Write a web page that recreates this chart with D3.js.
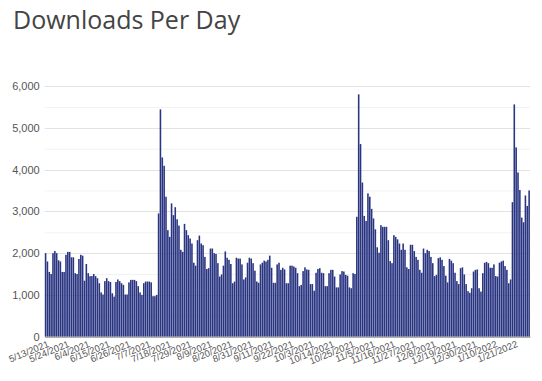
<!DOCTYPE html>
<html>
<head>
<meta charset="utf-8">
<script src="https://cdn.jsdelivr.net/npm/d3@7"></script>
<style>
  body { margin: 0; background: #fff; }
</style>
</head>
<body>
<div id="vis-holder"></div>
<script>
// Chart size
const width = 542;
const height = 381;
const margin = { top: 86, right: 12, bottom: 44.3, left: 44.7 };

// Data: one value per day, starting on startDate
const startDate = "2021-05-13";
const downloads = [
  2000, 1800, 1550, 1500, 2000, 2050, 2000, 1830, 1800, 1550, 1550, 1960, 2030, 2030, 1900, 1900, 1520, 1500, 1860, 1960, 1940, 1340, 1740,
  1520, 1450, 1450, 1500, 1450, 1400, 1280, 1060, 1010, 1330, 1400, 1330, 1310, 1040, 960, 1310, 1370, 1330, 1280, 1240, 1010, 1010, 1300, 1360,
  1360, 1360, 1330, 1210, 1060, 1000, 1280, 1320, 1320, 1320, 1300, 970, 970, 1000,
  2950,
  5440, 4290, 4090, 3350, 2550, 2390, 3190, 2910, 3100, 2810,
  2660, 2080, 2030, 2700, 2550, 2430, 2350, 2230, 1770, 1700, 2310, 2420, 2230, 2190, 1910, 1620, 1640, 2110, 2110, 2000, 1980, 1760, 1440, 1490,
  1700, 2040, 1890, 1840, 1740, 1280, 1320, 1890, 1870, 1870, 1730, 1370, 1420, 1770, 1890, 1870, 1760, 1580, 1320, 1290, 1730, 1770, 1820, 1800, 1840,
  1940, 1650, 1290, 1290, 1730, 1770, 1600, 1650, 1610, 1280, 1280, 1700, 1700, 1680, 1650, 1520, 1210, 1240, 1570, 1660, 1610, 1600, 1260, 1260,
  1100, 1530, 1620, 1640, 1530, 1520, 1210, 1210, 1520, 1600, 1600, 1440, 1180, 1180, 1490, 1570, 1560, 1480, 1460, 1180, 1160, 1520,
  1500, 2870,
  5800, 4610, 3690, 2890, 2770, 3430, 3350, 3060, 2830, 2570, 2140, 2010, 2670, 2630, 2630, 2630, 2310, 1810, 1760, 2430, 2390, 2330, 2230, 2080,
  2230, 2080, 1660, 1620, 2200, 2200, 2050, 1910, 1840, 1600, 1530, 2110, 2000, 2080, 2050, 1910, 1760, 1450, 1480, 1880, 1900, 1840, 1690, 1460, 1300,
  1860,
  1820, 1760, 1530, 1330, 1260, 1640, 1660, 1490, 1260, 1090, 1050, 1160, 1560, 1600, 1610, 1160, 1080, 1520, 1770, 1790, 1760, 1650,
  1650,
  1730, 1450, 1440, 1770, 1800, 1820, 1690, 1600, 1280, 1370, 3220, 5560, 4530, 3930, 3510, 2850, 2740, 3380, 3130, 3500
];
const yTicks = [0, 1000, 2000, 3000, 4000, 5000, 6000];
const yMinorTicks = [500, 1500, 2500, 3500, 4500, 5500];
const labelEvery = 11; // a date label on every 11th day

// Day labels
const day0 = d3.timeParse("%Y-%m-%d")(startDate);
const fmtDay = d3.timeFormat("%-m/%-d/%Y");
const days = downloads.map((d, i) => fmtDay(d3.timeDay.offset(day0, i)));

const svg = d3.select("#vis-holder")
  .append("svg")
  .attr("width", width)
  .attr("height", height);

// Title
svg.append("text")
  .attr("x", 13)
  .attr("y", 29)
  .attr("font-family", "Open Sans, sans-serif")
  .attr("font-size", 25)
  .attr("fill", "#444")
  .text("Downloads Per Day");

// Scales
const x = d3.scaleBand()
  .domain(d3.range(downloads.length))
  .range([margin.left, width - margin.right])
  .paddingInner(0.15)
  .paddingOuter(0.05);

const y = d3.scaleLinear()
  .domain([0, 6000])
  .range([height - margin.bottom, margin.top]);

// Grid lines
svg.append("g")
  .selectAll("line")
  .data(yMinorTicks)
  .join("line")
  .attr("x1", margin.left)
  .attr("x2", width - margin.right)
  .attr("y1", (d) => y(d) + 0.5)
  .attr("y2", (d) => y(d) + 0.5)
  .attr("stroke", "#f2f2f2");

svg.append("g")
  .selectAll("line")
  .data(yTicks)
  .join("line")
  .attr("x1", margin.left)
  .attr("x2", width - margin.right)
  .attr("y1", (d) => Math.round(y(d)) + 0.5)
  .attr("y2", (d) => Math.round(y(d)) + 0.5)
  .attr("stroke", "#e2e2e2");

// Y axis labels
svg.append("g")
  .attr("transform", `translate(${margin.left}, 0)`)
  .call(d3.axisLeft(y).tickValues(yTicks).tickFormat(d3.format(",")).tickSize(0).tickPadding(5))
  .call((g) => g.select(".domain").remove())
  .call((g) => g.selectAll("text")
    .attr("font-family", "Liberation Sans, Arial, sans-serif")
    .attr("font-size", 11)
    .attr("fill", "#555"));

// Bars
svg.append("g")
  .selectAll("rect")
  .data(downloads)
  .join("rect")
  .attr("x", (d, i) => x(i))
  .attr("y", (d) => y(d))
  .attr("width", x.bandwidth())
  .attr("height", (d) => y(0) - y(d))
  .attr("fill", "#2a3582");

// X axis with rotated date labels
svg.append("g")
  .attr("transform", `translate(0, ${y(0)})`)
  .call(d3.axisBottom(x)
    .tickValues(d3.range(0, downloads.length, labelEvery))
    .tickFormat((i) => days[i])
    .tickSize(0)
    .tickPadding(4))
  .call((g) => g.select(".domain").attr("stroke", "#999"))
  .call((g) => g.selectAll("text")
    .attr("font-family", "Liberation Sans, Arial, sans-serif")
    .attr("font-size", 9.5)
    .attr("fill", "#555")
    .attr("text-anchor", "end")
    .attr("dy", "0.7em")
    .attr("transform", "rotate(-22)"));
</script>
</body>
</html>
